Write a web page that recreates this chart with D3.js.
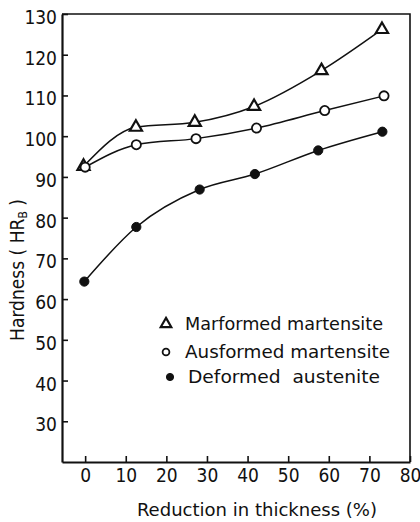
<!DOCTYPE html>
<html>
<head>
<meta charset="utf-8">
<script src="https://cdn.jsdelivr.net/npm/d3@7"></script>
<style>
  body { margin: 0; background: #fff; }
  text { font-family: "DejaVu Sans Condensed", "DejaVu Sans", sans-serif; fill: #111; }
</style>
</head>
<body>
<svg id="chart" width="420" height="522"></svg>
<script>
// values
const xTicks = [0, 10, 20, 30, 40, 50, 60, 70, 80];
const yTicks = [30, 40, 50, 60, 70, 80, 90, 100, 110, 120, 130];

const marformedX = [-0.4, 12.5, 27, 41.6, 58.2, 73.1];
const marformedY = [92.6, 102.2, 103.4, 107.3, 116.1, 126.2];
const ausformedX = [0, 12.6, 27.3, 42.2, 59, 73.6];
const ausformedY = [92.4, 97.9, 99.4, 102, 106.3, 109.9];
const deformedX = [-0.2, 12.6, 28.2, 41.8, 57.4, 73.2];
const deformedY = [64.3, 77.7, 86.9, 90.7, 96.5, 101.1];

const seriesNames = ["Marformed martensite", "Ausformed martensite", "Deformed  austenite"];
const seriesMarks = ["triangle", "open", "filled"];

var svg = d3.select("#chart"),
    margin = {top: 14, right: 10, bottom: 60, left: 62},
    width = +svg.attr("width"),
    height = +svg.attr("height");

var x = d3.scaleLinear()
    .domain([-5.7, 80])
    .range([margin.left, width - margin.right]);

var y = d3.scaleLinear()
    .domain([20, 130])
    .range([height - margin.bottom, margin.top]);

var series = [
    {name: seriesNames[0], mark: seriesMarks[0], values: marformedX.map((v, i) => ({x: v, y: marformedY[i]}))},
    {name: seriesNames[1], mark: seriesMarks[1], values: ausformedX.map((v, i) => ({x: v, y: ausformedY[i]}))},
    {name: seriesNames[2], mark: seriesMarks[2], values: deformedX.map((v, i) => ({x: v, y: deformedY[i]}))}
];

// frame (top and right sides)
svg.append("path")
    .attr("d", "M" + x.range()[0] + "," + y.range()[1] + "H" + x.range()[1] + "V" + y.range()[0])
    .attr("fill", "none")
    .attr("stroke", "#111")
    .attr("stroke-width", 1.6);

// axes, ticks pointing inwards
var xAxis = svg.append("g")
    .attr("transform", "translate(0," + y.range()[0] + ")")
    .call(d3.axisBottom(x).tickValues(xTicks).tickSizeInner(-6).tickSizeOuter(0).tickPadding(7));

var yAxis = svg.append("g")
    .attr("transform", "translate(" + x.range()[0] + ",0)")
    .call(d3.axisLeft(y).tickValues(yTicks).tickSizeInner(-6).tickSizeOuter(0).tickPadding(5));

[xAxis, yAxis].forEach(function(a) {
    a.select(".domain").attr("stroke", "#111").attr("stroke-width", 2.2);
    a.selectAll(".tick line").attr("stroke", "#111").attr("stroke-width", 1.6);
    a.selectAll(".tick text").attr("font-size", 19).attr("fill", "#111");
});
yAxis.selectAll(".tick text").attr("dy", "0.5em");

// curves
var line = d3.line()
    .curve(d3.curveMonotoneX)
    .x(d => x(d.x))
    .y(d => y(d.y));

svg.selectAll(".curve")
    .data(series)
    .enter().append("path")
    .attr("class", "curve")
    .attr("d", d => line(d.values))
    .attr("fill", "none")
    .attr("stroke", "#111")
    .attr("stroke-width", 1.5);

function drawMark(g, mark, big) {
    if (mark == "triangle") {
        g.append("path")
            .attr("d", d3.symbol(d3.symbolTriangle, big ? 64 : 48)())
            .attr("fill", "#fff")
            .attr("stroke", "#111")
            .attr("stroke-width", 2.2);
    } else {
        g.append("circle")
            .attr("r", mark == "open" ? (big ? 4.6 : 3.4) : (big ? 4.6 : 3.6))
            .attr("fill", mark == "open" ? "#fff" : "#111")
            .attr("stroke", "#111")
            .attr("stroke-width", mark == "open" ? 1.8 : 1);
    }
}

series.forEach(function(s) {
    s.values.forEach(function(p) {
        var g = svg.append("g")
            .attr("transform", "translate(" + x(p.x) + "," + y(p.y) + ")");
        drawMark(g, s.mark, true);
    });
});

// legend
var legendY = [324, 352, 377];
var legendMarkX = [166, 166, 170];
var legendTextX = [185, 185, 188];
var legendLen = [198, 205, 192];

series.forEach(function(s, i) {
    var g = svg.append("g")
        .attr("transform", "translate(" + legendMarkX[i] + "," + legendY[i] + ")");
    drawMark(g, s.mark, false);
    svg.append("text")
        .attr("x", legendTextX[i])
        .attr("y", legendY[i])
        .attr("dy", "0.36em")
        .attr("font-size", 17)
        .attr("textLength", legendLen[i])
        .attr("lengthAdjust", "spacingAndGlyphs")
        .style("white-space", "pre")
        .text(s.name);
});

// axis titles
svg.append("text")
    .attr("x", 257)
    .attr("y", 516)
    .attr("text-anchor", "middle")
    .attr("font-size", 17)
    .attr("textLength", 240)
    .attr("lengthAdjust", "spacingAndGlyphs")
    .text("Reduction in thickness (%)");

var yTitle = svg.append("text")
    .attr("transform", "translate(24,270) rotate(-90)")
    .attr("text-anchor", "middle")
    .attr("font-size", 19);
yTitle.append("tspan").text("Hardness ( HR");
yTitle.append("tspan").attr("font-size", 12).attr("dy", 3).text("B");
yTitle.append("tspan").attr("dy", -3).text(" )");
</script>
</body>
</html>
